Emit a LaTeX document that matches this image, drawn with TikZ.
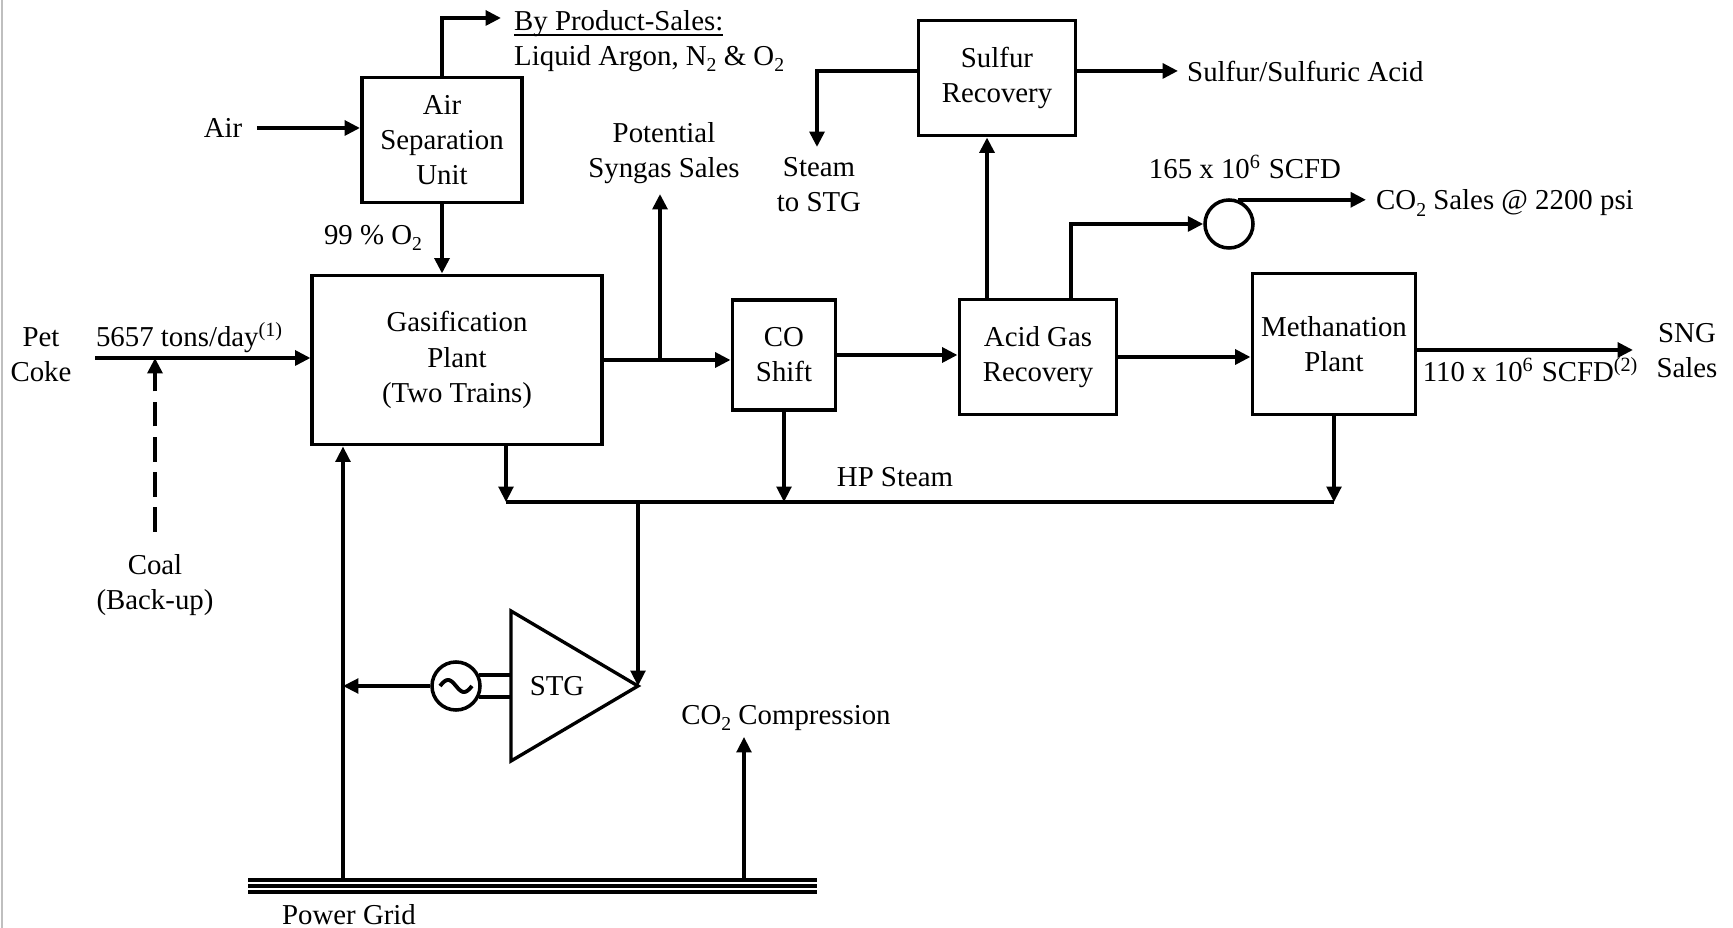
\documentclass[tikz,border=0pt]{standalone}
\usepackage{fontspec}
\setmainfont{Liberation Serif}
\usepackage{graphicx}
\usetikzlibrary{arrows.meta, positioning, calc}
\newcommand{\lowsub}[1]{\raisebox{-0.5ex}{\fontsize{5.6}{6}\selectfont #1}}
\tikzset{
	unit/.style    ={rectangle, draw=black, line width=1.1pt, align=center, inner sep=1pt},
	lbl/.style     ={align=center, inner sep=1pt},
	flow/.style    ={-{Triangle[length=4.4pt, width=4.2pt]}, line width=1.2pt},
	thinflow/.style={-{Triangle[length=4.4pt, width=4.2pt]}, line width=0.95pt},
	pipe/.style    ={line width=0.95pt},
	disc/.style    ={circle, draw=black, line width=1pt, minimum size=0.48cm, inner sep=0pt},
}

\begin{document}
\begin{tikzpicture}[x=0.01cm, y=-0.01cm, font=\fontsize{8.2}{10}\selectfont]
\useasboundingbox (0,0) rectangle (1733,928);
\draw[black!25, line width=0.6pt] (2,0) -- (2,928);

% process units
\node[unit, minimum width=1.6cm, minimum height=1.25cm] (asu) at (442,140) {Air\\Separation\\Unit};
\node[unit, minimum width=2.89cm, minimum height=1.69cm] (gas) at (457,360) {Gasification\\Plant\\(Two Trains)};
\node[unit, minimum width=1.03cm, minimum height=1.1cm] (shift) at (784,355) {CO\\Shift};
\node[unit, minimum width=1.57cm, minimum height=1.15cm] (agr) at (1038,357) {Acid Gas\\Recovery};
\node[unit, minimum width=1.57cm, minimum height=1.15cm] (sru) at (997,78) {Sulfur\\Recovery};
\node[unit, minimum width=1.63cm, minimum height=1.41cm] (meth) at (1334,344) {Methanation\\Plant};
\node[disc] (comp) at (1229,224) {};
\node[disc] (gen) at (456,686) {};

% labels
\node[lbl] (air) at (223,128) {Air};
\node[lbl] (oxy) at (373,238) {99 \% O\lowsub{2}};
\node[lbl, align=left, anchor=west] (byp) at (510,51) {\underline{\smash{By Product-Sales:}}\\Liquid Argon, N\lowsub{2} \& O\lowsub{2}};
\node[lbl] (pet) at (41,355) {Pet\\Coke};
\node[lbl] (rate) at (190,338) {5657 tons/day\textsuperscript{(1)}};
\node[lbl] (coal) at (155,585) {Coal\\(Back-up)};
\node[lbl] (syn) at (664,153) {Potential\\Syngas Sales};
\node[lbl] (stm) at (819,185) {Steam\\to STG};
\node[lbl, anchor=west] (sulf) at (1183,71) {Sulfur/Sulfuric Acid};
\node[lbl] (co2rate) at (1245,167) {165 x 10\textsuperscript{6} SCFD};
\node[lbl, anchor=west] (co2s) at (1372,203) {CO\lowsub{2} Sales @ 2200 psi};
\node[lbl] (sng) at (1687,351) {SNG\\Sales};
\node[lbl] (sngrate) at (1531,370) {110 x 10\textsuperscript{6} SCFD\textsuperscript{(2)}};
\node[lbl] (hps) at (895,477) {HP Steam};
\node[lbl] (stg) at (557,686) {STG};
\node[lbl] (grid) at (349,915) {Power Grid};
\node[lbl] (co2c) at (786,718) {CO\lowsub{2} Compression};

% free ends
\coordinate (bptip) at (501,18);
\coordinate (feed) at (95,358);
\coordinate (coaltop) at (155,532);
\coordinate (syntip) at (660,194);
\coordinate (acidx) at (987,0);
\coordinate (co2x) at (1071,0);
\coordinate (stmtip) at (817,147);
\coordinate (sulftip) at (1178,71);
\coordinate (co2tip) at (1366,0);
\coordinate (sngtip) at (1633,350);
\coordinate (hpL) at (506,502);
\coordinate (stgtip) at (638,686);
\coordinate (stgL) at (511,686);
\coordinate (pg) at (343,880);
\coordinate (pc) at (744,880);
\coordinate (pctip) at (744,737);

% main gas train
\draw[flow] ([xshift=3pt]air.east) -- (air.east -| asu.west);
\draw[flow] (asu.north) |- (bptip);
\draw[flow] (asu.south) -- (asu.south |- gas.north);
\draw[flow] (feed) -- (feed -| gas.west);
\draw[flow, dash pattern=on 7pt off 3pt] (coaltop) -- (coaltop |- feed);
\draw[flow] (gas.east) -- (gas.east -| shift.west);
\draw[flow] (syntip |- gas.east) -- (syntip);
\draw[flow] (shift.east) -- (shift.east -| agr.west);
\draw[flow] (agr.north -| acidx) -- (sru.south -| acidx);
\draw[flow] (sru.175) -| (stmtip);
\draw[flow] (sru.5) -- (sru.5 -| sulftip);
\draw[flow] (agr.north -| co2x) |- (comp.west);
\draw[flow] (comp.70) -- (comp.70 -| co2tip);
\draw[flow] (agr.east) -- (agr.east -| meth.west);
\draw[flow] (meth.east |- sngtip) -- (sngtip);

% HP steam header and turbine
\draw[thinflow] (gas.south -| hpL) -- (hpL);
\draw[thinflow] (shift.south) -- (shift.south |- hpL);
\draw[thinflow] (meth.south) -- (meth.south |- hpL);
\draw[pipe] (hpL) -- (meth.south |- hpL);
\draw[thinflow] (stgtip |- hpL) -- (stgtip);
\draw[pipe] (511,611) -- (stgtip) -- (511,761) -- cycle;
\draw[line width=1.1pt] plot[domain=-16:16, samples=40, smooth] (\x+456, {686+6*sin(11.25*\x)});
\draw[line width=1.2pt] (gen.25) -- (gen.25 -| stgL) (gen.-25) -- (gen.-25 -| stgL);

% power
\draw[thinflow] (gen.west) -- (gen.west -| pg);
\draw[thinflow] (pg) -- (pg |- gas.south);
\foreach \y in {880,886,892} \draw[line width=1pt] (248,\y) -- (817,\y);
\draw[thinflow] (pc) -- (pctip);
\end{tikzpicture}
\end{document}
